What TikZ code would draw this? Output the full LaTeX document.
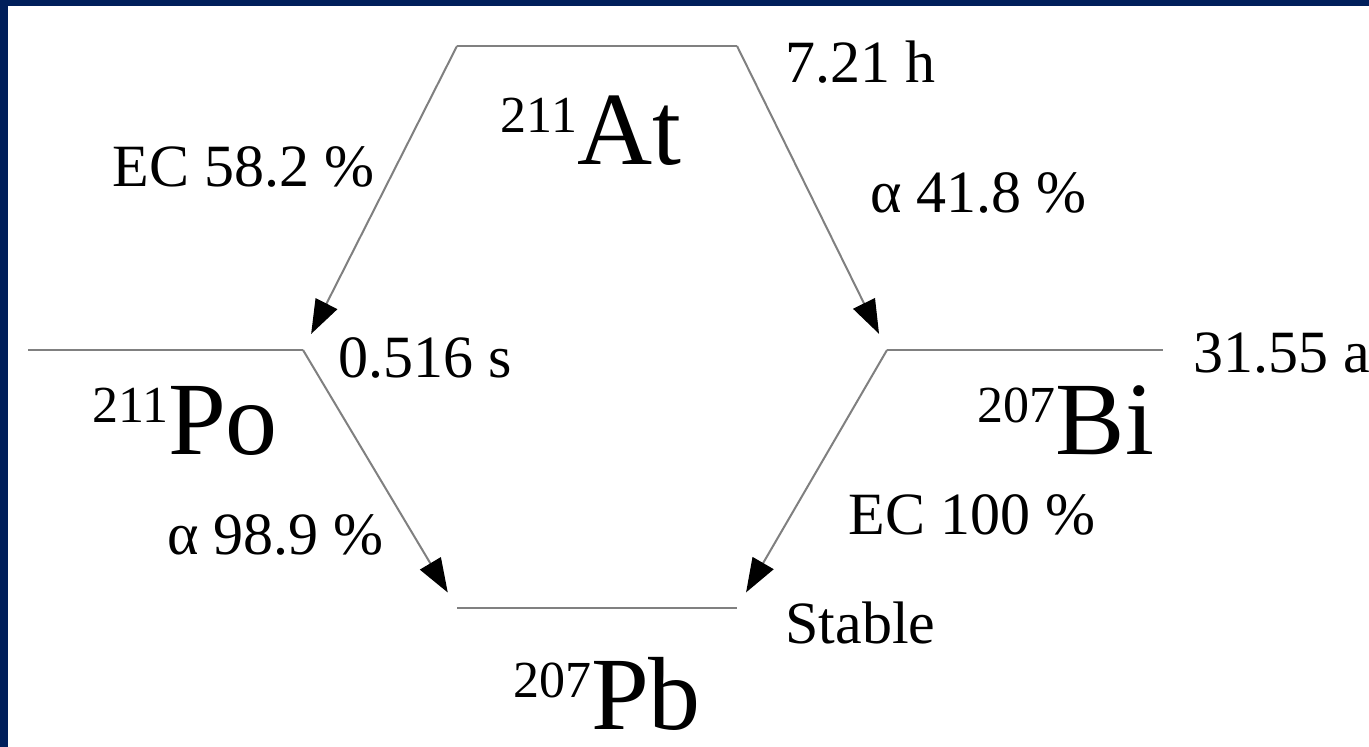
\documentclass[tikz,border=0pt]{standalone}
\usepackage{fontspec}
\setmainfont{Liberation Serif}
\usetikzlibrary{arrows.meta}
\definecolor{navy}{RGB}{0,31,91}
\definecolor{lvlgray}{RGB}{128,128,128}
\newcommand{\nuc}[2]{{\fontsize{26}{26}\selectfont\raisebox{16pt}{#1}}{\fontsize{52}{52}\selectfont #2}}

\begin{document}
\begin{tikzpicture}[x=0.5pt, y=-0.5pt, line join=round,
    lvl/.style={draw=lvlgray, line width=1.2pt},
    decay/.style={draw=lvlgray, line width=1pt, shorten >=9pt,
        -{Triangle[length=17pt, width=12pt, color=black]}},
    lab/.style={font=\fontsize{30}{30}\selectfont, inner sep=0pt}]
    % frame
    \fill[navy] (0,0) rectangle (1369,747);
    \fill[white] (8,6) rectangle (1369,747);
    \useasboundingbox (0,0) rectangle (1369,747);
    % level ends
    \coordinate (AtL) at (457,46);
    \coordinate (AtR) at (737,46);
    \coordinate (PoL) at (28,350);
    \coordinate (PoR) at (303,350);
    \coordinate (BiL) at (887,350);
    \coordinate (BiR) at (1163,350);
    \coordinate (PbL) at (457,608);
    \coordinate (PbR) at (737,608);
    % levels
    \draw[lvl] (AtL) -- (AtR);
    \draw[lvl] (PoL) -- (PoR);
    \draw[lvl] (BiL) -- (BiR);
    \draw[lvl] (PbL) -- (PbR);
    % decays
    \draw[decay] (AtL) -- (PoR);
    \draw[decay] (AtR) -- (BiL);
    \draw[decay] (PoR) -- (PbL);
    \draw[decay] (BiL) -- (PbR);
    % nuclides
    \node[inner sep=0pt, anchor=base] (at) at (591,165) {\nuc{211}{At}};
    \node[inner sep=0pt, anchor=base] (po) at (185,455) {\nuc{211}{Po}};
    \node[inner sep=0pt, anchor=base] (bi) at (1066,455) {\nuc{207}{Bi}};
    \node[inner sep=0pt, anchor=base] (pb) at (607,729) {\nuc{207}{Pb}};
    % half-lives
    \node[lab, anchor=base west] (atT) at (785,83) {7.21 h};
    \node[lab, anchor=base west] (poT) at (338,378) {0.516 s};
    \node[lab, anchor=base west] (biT) at (1193,373) {31.55 a};
    \node[lab, anchor=base west] (pbT) at (785,643) {Stable};
    % branches
    \node[lab, anchor=base east] (ecAt) at (375,187) {EC 58.2 \%};
    \node[lab, anchor=base west] (alAt) at (870,213) {α 41.8 \%};
    \node[lab, anchor=base west] (ecBi) at (848,535) {EC 100 \%};
    \node[lab, anchor=base west] (alPo) at (167,555) {α 98.9 \%};
\end{tikzpicture}
\end{document}
